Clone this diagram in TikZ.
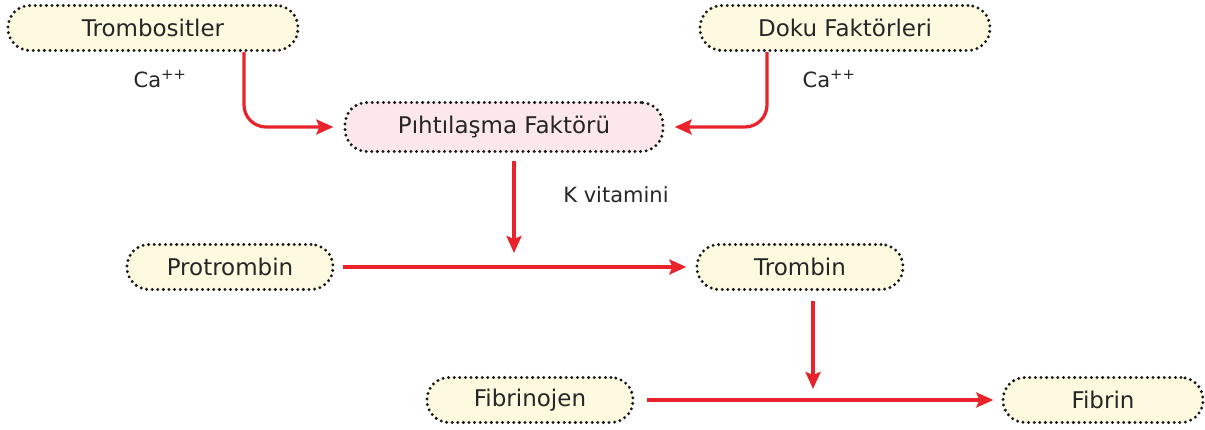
\documentclass[tikz,border=0pt]{standalone}
\usepackage{fontspec}
\setmainfont{DejaVu Sans}
\usetikzlibrary{arrows.meta}
\definecolor{boxcream}{HTML}{FEFAE0}
\definecolor{boxpink}{HTML}{FCE8EA}
\definecolor{arrred}{HTML}{E8232B}
\tikzset{
  pill/.style={draw=black!90, line width=3.3pt, line cap=round,
    dash pattern=on 0pt off 5.6pt, fill=boxcream, rounded corners=22pt,
    minimum height=45pt, inner sep=0pt, text=black!85,
    font=\fontsize{23}{26}\selectfont},
  arr/.style={draw=arrred, line width=3.2pt,
    -{Stealth[length=17pt,width=15pt,inset=3pt]}},
  lbl/.style={font=\fontsize{21}{24}\selectfont, inner sep=0pt, text=black!85}
}
\begin{document}
\begin{tikzpicture}[x=1pt,y=-1pt]
\useasboundingbox (0,0) rectangle (1205,430);

\node[pill, minimum width=290pt] (tromb) at (153,28) {Trombositler};
\node[pill, minimum width=290pt] (doku) at (845,28) {Doku Faktörleri};
\node[pill, minimum width=318pt, minimum height=49pt, fill=boxpink] (pf) at (504,127) {Pıhtılaşma Faktörü};
\node[pill, minimum width=206pt] (protr) at (230,267) {Protrombin};
\node[pill, minimum width=206pt] (trmb) at (800,267) {Trombin};
\node[pill, minimum width=206pt] (fibj) at (530,400) {Fibrinojen};
\node[pill, minimum width=200pt] (fib) at (1103,400) {Fibrin};

\node[lbl] (ca1) at (160,79) {Ca\textsuperscript{++}};
\node[lbl] (ca2) at (829,79) {Ca\textsuperscript{++}};
\node[lbl] (kvit) at (616,195) {K vitamini};

\coordinate (kend) at (514,253);
\coordinate (tend) at (813,389);

\draw[arr, rounded corners=22pt, shorten >=10pt] ([xshift=91pt]tromb.south) |- (pf.west);
\draw[arr, rounded corners=22pt, shorten >=10pt] ([xshift=-78pt]doku.south) |- (pf.east);
\draw[arr, shorten <=8pt] ([xshift=10pt]pf.south) -- (kend);
\draw[arr, shorten <=8pt, shorten >=9pt] (protr) -- (trmb);
\draw[arr, shorten <=10pt] ([xshift=13pt]trmb.south) -- (tend);
\draw[arr, shorten <=12pt, shorten >=8pt] (fibj) -- (fib);
\end{tikzpicture}
\end{document}
